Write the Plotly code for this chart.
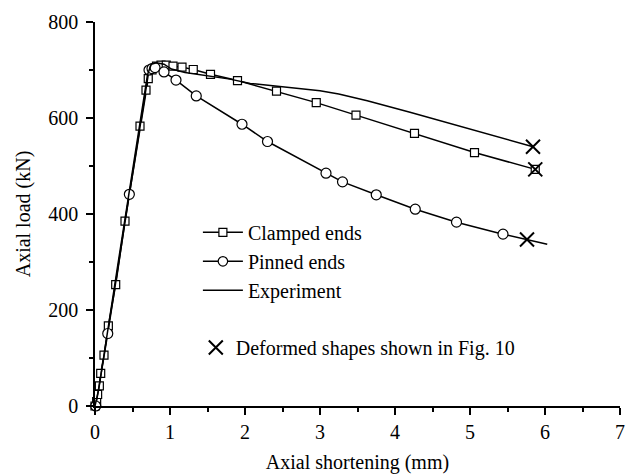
import plotly.graph_objects as go

# Clamped ends (FE) - markers at every point
clamped_x = [0.0, 0.022, 0.035, 0.058, 0.076, 0.12, 0.178, 0.276, 0.40, 0.60, 0.68, 0.71, 0.76, 0.82,
             0.88, 0.95, 1.04, 1.16, 1.31, 1.54, 1.90, 2.42, 2.95, 3.48, 4.26, 5.06, 5.87]
clamped_y = [0, 9, 24, 42, 68, 106, 167, 253, 385, 583, 658, 682, 700, 708,
             710, 710, 708, 706, 701, 691, 678, 656, 632, 606, 568, 528, 493]

# Pinned ends (FE)
pinned_x = [0.01, 0.17, 0.458, 0.72, 0.76, 0.80, 0.92, 1.08, 1.35, 1.96, 2.30, 3.08, 3.30, 3.75, 4.27, 4.82, 5.44, 6.03]
pinned_y = [0, 151, 441, 700, 703, 705, 696, 679, 646, 587, 551, 485, 467, 440, 410, 383, 358, 337]
pinned_marker_shown = [1] * 17 + [0]

# Experiment
exp_x = [0.0, 0.05, 0.30, 0.55, 0.70, 0.75, 0.82, 0.92, 1.02, 1.20, 1.40, 1.80, 2.07, 2.40, 2.73, 3.00, 3.25, 3.45, 3.63, 4.20, 4.80, 5.30, 5.84]
exp_y = [0, 35, 290, 540, 690, 712, 715, 712, 702, 695, 690, 681, 672, 667, 662, 657, 650, 643, 636, 612, 586, 564, 540]

# Deformed shapes shown in Fig. 10
deformed_x = [5.84, 5.87, 5.76]
deformed_y = [540, 493, 347]

x_ticks = [0, 1, 2, 3, 4, 5, 6, 7]
y_ticks = [0, 200, 400, 600, 800]

FONT = "Liberation Serif"

fig = go.Figure()

fig.add_trace(go.Scatter(
    x=clamped_x, y=clamped_y, mode="lines+markers", name="Clamped ends",
    line=dict(color="black", width=1.5),
    marker=dict(symbol="square", size=8, color="rgba(255,255,255,1)", line=dict(color="black", width=1.2)),
    cliponaxis=False, legend="legend",
))
fig.add_trace(go.Scatter(
    x=pinned_x, y=pinned_y, mode="lines+markers", name="Pinned ends",
    line=dict(color="black", width=1.5),
    marker=dict(symbol="circle", size=[10 * s for s in pinned_marker_shown], color="rgba(255,255,255,1)",
                opacity=1, line=dict(color="black", width=1.2)),
    cliponaxis=False, legend="legend",
))
fig.add_trace(go.Scatter(
    x=exp_x, y=exp_y, mode="lines", name="Experiment",
    line=dict(color="black", width=1.5),
    cliponaxis=False, legend="legend",
))
fig.add_trace(go.Scatter(
    x=deformed_x, y=deformed_y, mode="markers", name="Deformed shapes shown in Fig. 10",
    marker=dict(symbol="x-thin", size=14, color="black", line=dict(color="black", width=2)),
    cliponaxis=False, legend="legend2",
))

axis_common = dict(
    showline=True, linecolor="black", linewidth=1.5,
    ticks="outside", ticklen=7, tickwidth=1.5, tickcolor="black",
    showgrid=False, zeroline=False, mirror=False, automargin=False,
    tickfont=dict(family=FONT, size=20, color="black"),
)

fig.update_layout(
    width=633, height=474,
    margin=dict(l=95, r=13, t=22, b=68, autoexpand=False),
    paper_bgcolor="white", plot_bgcolor="white",
    font=dict(family=FONT, size=20, color="black"),
    xaxis=dict(range=[0, 7], tickvals=x_ticks,
               minor=dict(ticks="outside", ticklen=4, tickwidth=1.5, tickcolor="black", dtick=0.5),
               title=dict(text="Axial shortening (mm)", font=dict(family=FONT, size=20), standoff=22),
               **axis_common),
    yaxis=dict(range=[0, 800], tickvals=y_ticks,
               minor=dict(ticks="outside", ticklen=4, tickwidth=1.5, tickcolor="black", dtick=100),
               title=dict(text="Axial load (kN)", font=dict(family=FONT, size=20), standoff=12),
               ticklabelstandoff=4,
               **axis_common),
    legend=dict(x=0.196, y=0.503, xanchor="left", yanchor="top", bgcolor="rgba(0,0,0,0)",
                font=dict(family=FONT, size=20), tracegroupgap=0, itemwidth=40),
    legend2=dict(x=0.192, y=0.203, xanchor="left", yanchor="top", bgcolor="rgba(0,0,0,0)",
                 font=dict(family=FONT, size=20)),
    showlegend=True,
)

fig.write_html("out.html")
